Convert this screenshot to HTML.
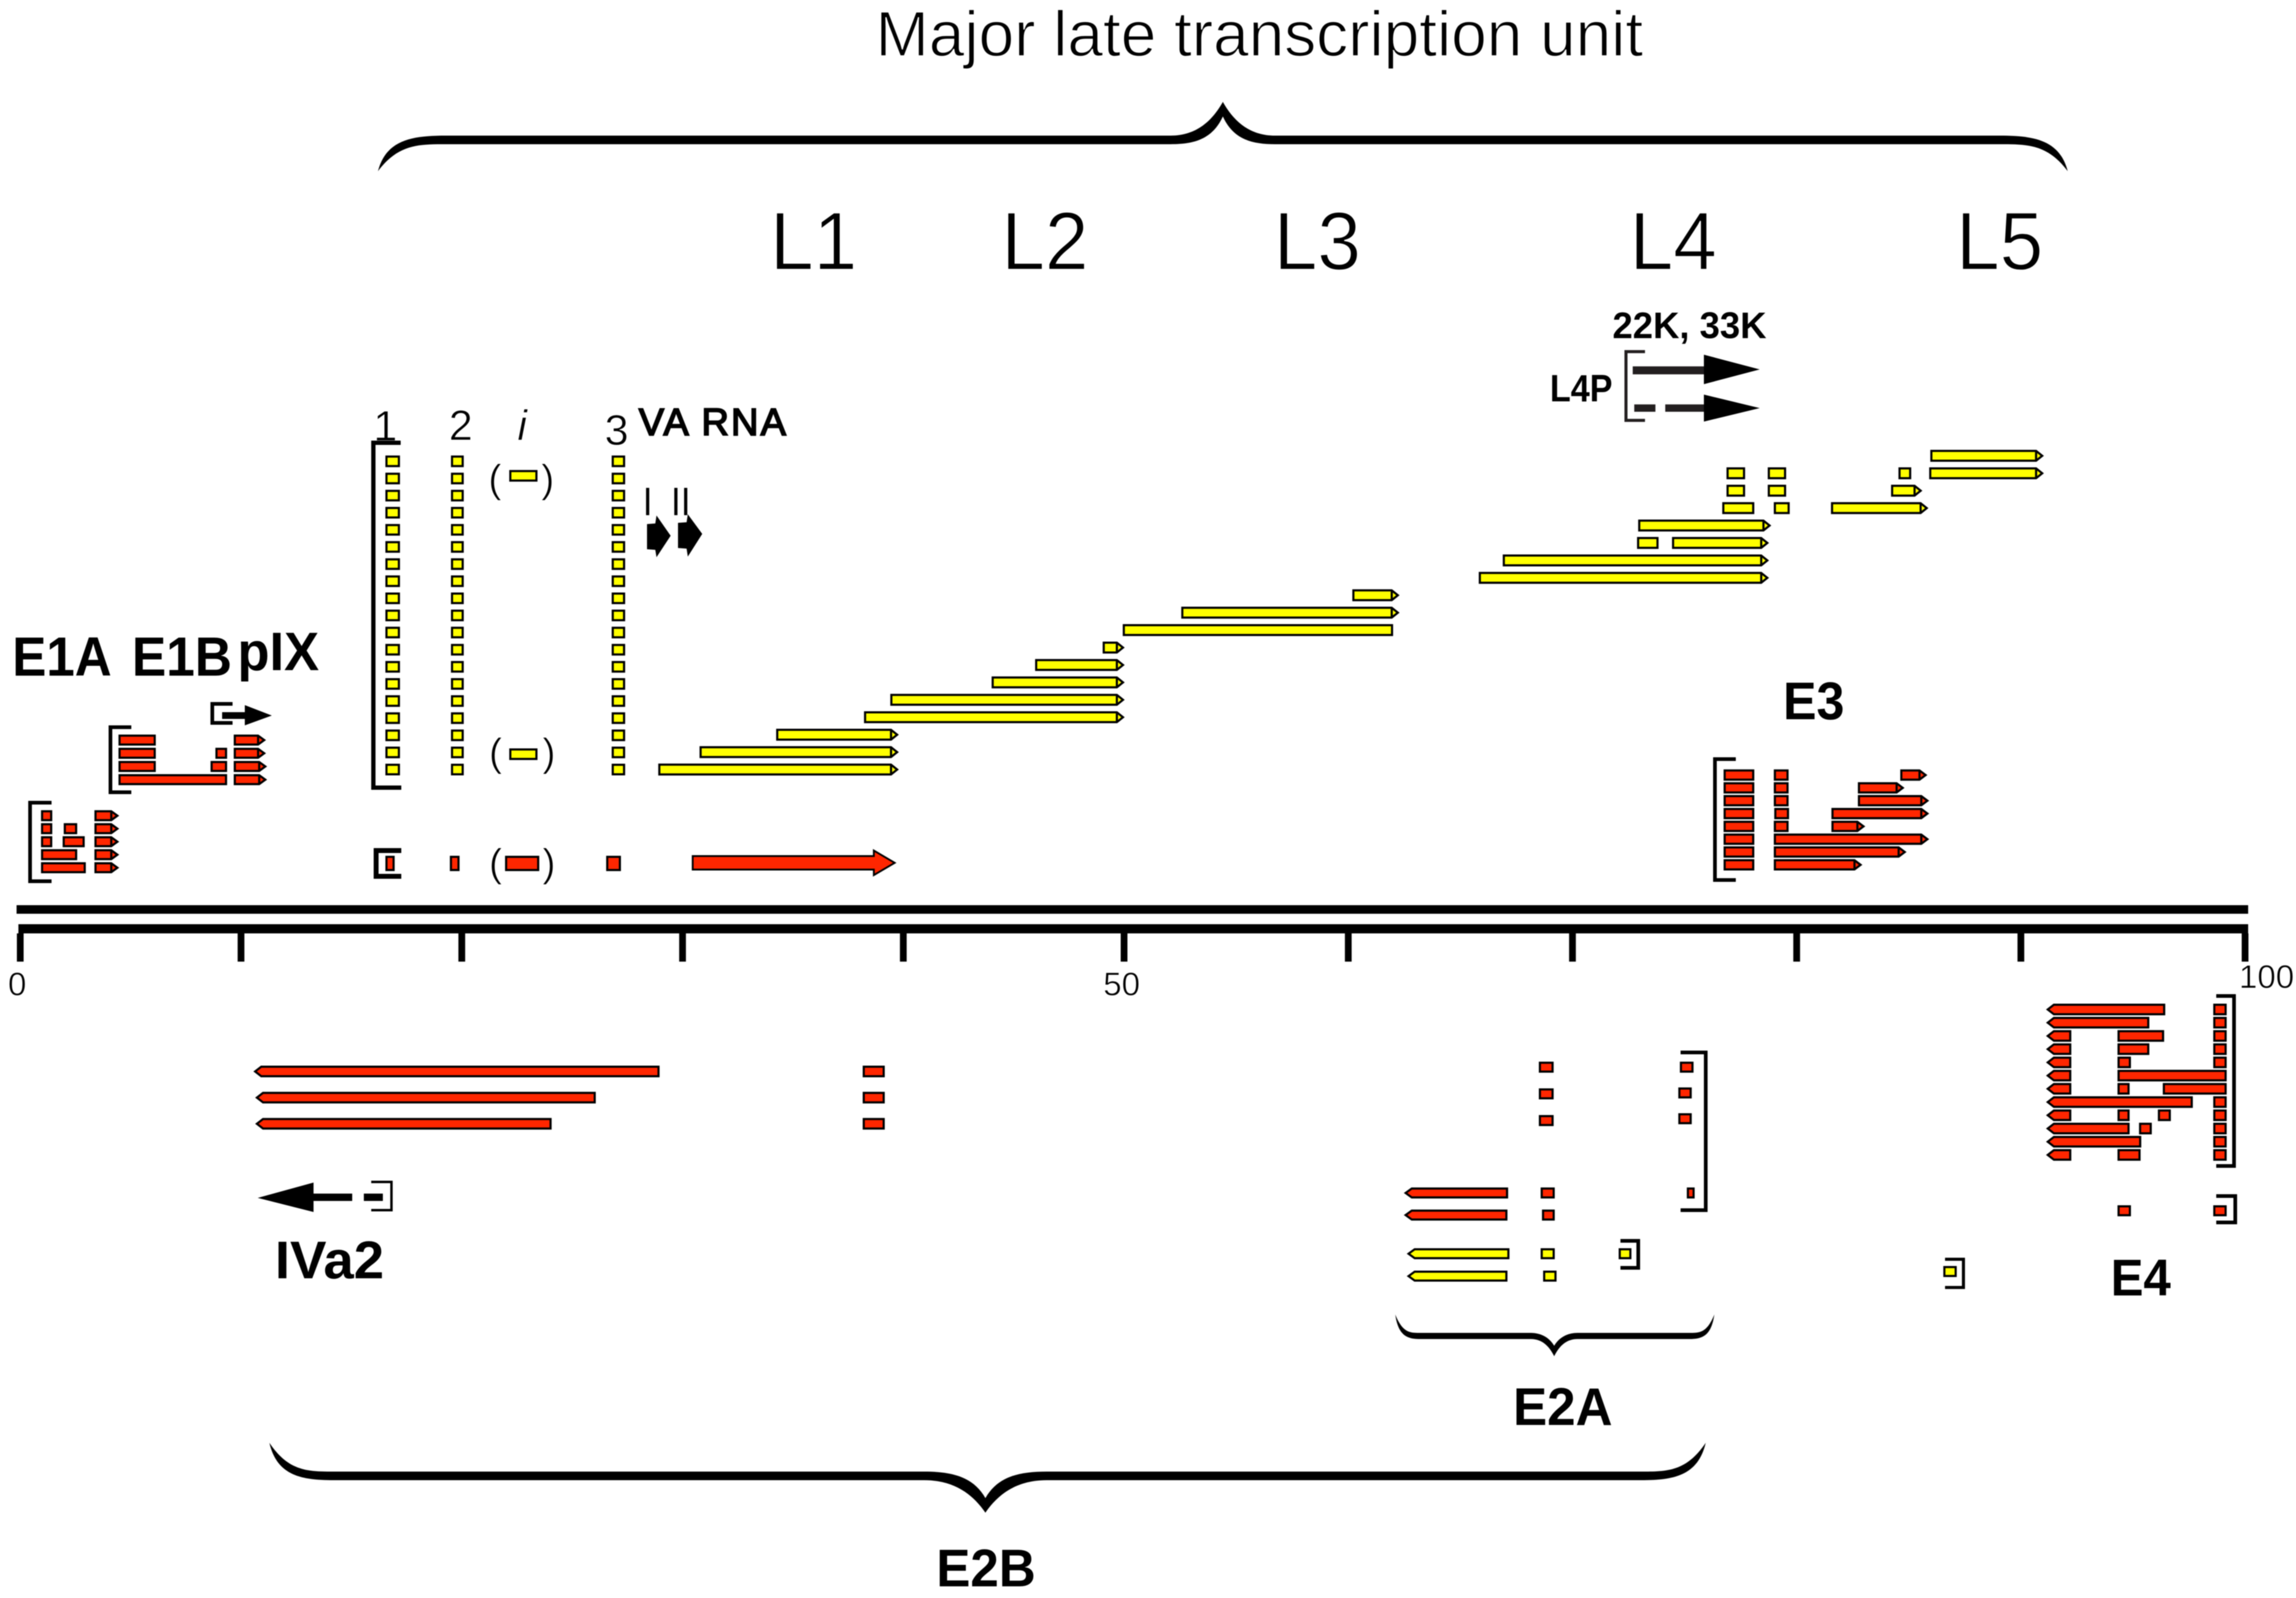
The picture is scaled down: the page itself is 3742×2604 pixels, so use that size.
<!DOCTYPE html>
<html lang="en">
<head>
<meta charset="utf-8">
<title>Adenovirus transcription map</title>
<style>
html,body{margin:0;padding:0;background:#fff;}
svg{display:block;filter:blur(0.9px);}
text{font-family:"Liberation Sans",sans-serif;fill:#000;}
.thin{stroke:#fff;stroke-width:1.8;}
.thin-s{stroke:#fff;stroke-width:0.9;}
.b{font-weight:bold;}
</style>
</head>
<body>
<svg id="map" xmlns="http://www.w3.org/2000/svg" width="3742" height="2604" viewBox="0 0 3742 2604">
  <rect x="0" y="0" width="3742" height="2604" fill="#fff"/>

  <text class="thin" x="1427" y="91" font-size="104" textLength="1251" lengthAdjust="spacingAndGlyphs">Major late transcription unit</text>
  <text class="thin" x="1255" y="439" font-size="134" textLength="142" lengthAdjust="spacingAndGlyphs">L1</text>
  <text class="thin" x="1632" y="439" font-size="134" textLength="142" lengthAdjust="spacingAndGlyphs">L2</text>
  <text class="thin" x="2076" y="439" font-size="134" textLength="142" lengthAdjust="spacingAndGlyphs">L3</text>
  <text class="thin" x="2656" y="439" font-size="134" textLength="142" lengthAdjust="spacingAndGlyphs">L4</text>
  <text class="thin" x="3188" y="439" font-size="134" textLength="142" lengthAdjust="spacingAndGlyphs">L5</text>

  <text class="b" x="2628" y="551" font-size="60" textLength="251" lengthAdjust="spacingAndGlyphs">22K, 33K</text>
  <text class="b" x="2526" y="654" font-size="62" textLength="102" lengthAdjust="spacingAndGlyphs">L4P</text>
  <text x="1041" y="709" font-size="62" stroke="#000" stroke-width="2.5" textLength="240" lengthAdjust="spacing">VA RNA</text>
  <text class="thin-s" x="628" y="718" font-size="70" text-anchor="middle">1</text>
  <text class="thin-s" x="751" y="717" font-size="70" text-anchor="middle">2</text>
  <text class="thin-s" x="851" y="717" font-size="70" font-style="italic" text-anchor="middle">i</text>
  <text class="thin-s" x="1005" y="725" font-size="70" text-anchor="middle">3</text>
  <text class="thin-s" x="1055.5" y="840" font-size="66" text-anchor="middle">I</text>
  <text class="thin-s" x="1101.5" y="840" font-size="66" text-anchor="middle">I</text>
  <text class="thin-s" x="1117.5" y="840" font-size="66" text-anchor="middle">I</text>

  <text class="b" x="20" y="1101" font-size="90" textLength="162" lengthAdjust="spacingAndGlyphs">E1A</text>
  <text class="b" x="215" y="1101" font-size="90" textLength="163" lengthAdjust="spacingAndGlyphs">E1B</text>
  <text class="b" x="387" y="1092" font-size="88" textLength="133" lengthAdjust="spacingAndGlyphs">pIX</text>
  <text class="b" x="2906" y="1172" font-size="86" textLength="100" lengthAdjust="spacingAndGlyphs">E3</text>
  <text class="b" x="448" y="2083" font-size="86" textLength="178" lengthAdjust="spacingAndGlyphs">IVa2</text>
  <text class="b" x="3440" y="2111" font-size="84" textLength="98" lengthAdjust="spacingAndGlyphs">E4</text>
  <text class="b" x="2466" y="2322" font-size="86" textLength="162" lengthAdjust="spacingAndGlyphs">E2A</text>
  <text class="b" x="1526" y="2585" font-size="86" textLength="162" lengthAdjust="spacingAndGlyphs">E2B</text>

  <text class="thin-s" x="796" y="802" font-size="64">(</text>
  <text class="thin-s" x="882" y="802" font-size="64">)</text>
  <text class="thin-s" x="797" y="1248" font-size="64">(</text>
  <text class="thin-s" x="884" y="1248" font-size="64">)</text>
  <text class="thin-s" x="797" y="1428" font-size="64">(</text>
  <text class="thin-s" x="884" y="1428" font-size="64">)</text>

  <g fill="none" stroke="#000">
    <path stroke-width="6" d="M84,1308 H49 V1436 H84"/>
    <path stroke-width="6" d="M214,1185 H180 V1291 H214"/>
    <path stroke-width="6" d="M379,1147 H346 V1178 H379"/>
    <path stroke-width="7" d="M653,721.5 H608.5 V1283.5 H654"/>
    <path stroke-width="8" d="M654,1386 H613 V1428 H654"/>
    <path stroke-width="5" stroke="#231f20" d="M2681,573 H2650 V685 H2681"/>
    <path stroke-width="6" d="M2829,1237 H2795 V1434 H2829"/>
    <path stroke-width="4" d="M605,1926 H638 V1972 H605"/>
    <path stroke-width="6" d="M2739,1715 H2780 V1972 H2739"/>
    <path stroke-width="6" d="M2641,2022 H2670 V2066 H2641"/>
    <path stroke-width="5" d="M3170,2052 H3200 V2098 H3170"/>
    <path stroke-width="6" d="M3612,1623 H3641 V1900 H3612"/>
    <path stroke-width="6" d="M3612,1949 H3643 V1992 H3612"/>
  </g>

  <path fill="#000" d="M362,1160.5 H399 V1149 L443,1166 L399,1182 V1171.5 H362 Z"/>
  <path fill="#000" d="M1054.5,854 L1068,853 L1070,840 L1093,873 L1070,908 L1068,896 L1054.5,895 Z"/>
  <path fill="#000" d="M1105,852 L1119,851 L1121,838 L1144.5,870 L1121,907 L1119,894 L1105,893 Z"/>
  <rect x="2661" y="597" width="120" height="13" fill="#231f20"/>
  <polygon points="2777,578 2868,602 2777,626" fill="#000"/>
  <rect x="2663.5" y="659" width="34.5" height="12" fill="#231f20"/>
  <rect x="2714" y="659" width="67" height="12" fill="#231f20"/>
  <polygon points="2777,643 2868,665 2777,687" fill="#000"/>
  <polygon points="420,1952 511,1927 511,1975" fill="#000"/>
  <rect x="511" y="1945" width="63" height="12" fill="#000"/>
  <rect x="593" y="1945" width="31" height="12" fill="#000"/>

  <g id="axis"></g>
  <g id="marks"></g>
  <g id="braces"></g>
</svg>

<script>
// Map-unit axis
const tickValues = [0,10,20,30,40,50,60,70,80,90,100];
const labelValues = [0,50,100];
const labelTexts = ['0','50','100'];

// Segments: [start map unit, end map unit, lane, kind]; kind 0 = exon, 1 = forward arrow, -1 = reverse arrow
const e1aSegments = [
  [0.94,2.97,0,0],[3.36,4.45,0,1],
  [0.94,2.58,1,0],[3.36,4.45,1,1],
  [0.94,1.45,2,0],[1.92,2.92,2,0],[3.36,4.45,2,1],
  [0.94,1.45,3,0],[1.97,2.58,3,0],[3.36,4.45,3,1],
  [0.94,1.45,4,0],[3.36,4.45,4,1]
];
const e1bSegments = [
  [4.45,9.37,0,0],[9.67,11.15,0,1],
  [4.45,6.14,1,0],[8.62,9.37,1,0],[9.67,11.15,1,1],
  [4.45,6.14,2,0],[8.84,9.37,2,0],[9.67,11.1,2,1],
  [4.45,6.14,3,0],[9.67,11.1,3,1]
];
const leaderLanes = [0,1,2,3,4,5,6,7,8,9,10,11,12,13,14,15,16,17,18];
const leaderExon1 = [16.54,17.20];
const leaderExon2 = [19.51,20.09];
const leaderExon3 = [26.79,27.40];
const iLeaderLanesYellow = [0,18];
const iLeaderExon = [22.15,23.43];
const redLeaderSegments = [
  [16.54,16.96,0,0],[19.46,19.90,0,0],[21.96,23.51,0,0],[26.54,27.21,0,0]
];
const l1RedArrow = [30.46,39.61];
const lateSegments = [
  [28.90,39.77,0,1],[30.77,39.77,1,1],[34.24,39.77,2,1],
  [38.22,50,3,1],[39.41,50,4,1],[44.00,50,5,1],[45.97,50,6,1],[49.03,50,7,1],
  [49.94,62.00,8,0],[52.55,62.26,9,1],[60.18,62.26,10,1],
  [65.82,78.74,11,1],[66.89,78.74,12,1],
  [72.88,73.84,13,0],[74.44,78.74,13,1],
  [72.93,78.84,14,1],
  [76.68,78.11,15,0],[78.98,79.69,15,0],[81.53,85.85,15,1],
  [76.87,77.70,16,0],[78.71,79.53,16,0],[84.21,85.58,16,1],
  [76.87,77.70,17,0],[78.71,79.53,17,0],[84.54,85.11,17,0],[85.91,91.00,17,1],
  [85.96,91.00,18,1]
];
const e3Segments = [
  [76.74,78.11,0,0],[78.98,79.64,0,0],[84.62,85.80,0,1],
  [76.74,78.11,1,0],[78.98,79.64,1,0],[82.73,84.78,1,1],
  [76.74,78.11,2,0],[78.98,79.64,2,0],[82.73,85.88,2,1],
  [76.74,78.11,3,0],[79.00,79.66,3,0],[81.55,85.88,3,1],
  [76.74,78.11,4,0],[78.98,79.64,4,0],[81.55,83.03,4,1],
  [76.74,78.11,5,0],[78.98,85.88,5,1],
  [76.74,78.11,6,0],[78.98,84.87,6,1],
  [76.74,78.11,7,0],[78.98,82.90,7,1]
];
const e2bSegments = [
  [10.59,28.96,0,-1],[38.16,39.16,0,0],
  [10.67,26.07,1,-1],[38.16,39.16,1,0],
  [10.67,24.07,2,-1],[38.16,39.16,2,0]
];
const e2aUpperExons = [[68.50,69.16,0,0],[68.50,69.16,1,0],[68.50,69.16,2,0]];
const e2aBracketExons = [[74.79,75.40,0,0],[74.72,75.32,1,0],[74.72,75.32,2,0]];
const e2RedSegments = [
  [62.51,67.13,0,-1],[68.58,69.21,0,0],[75.10,75.45,0,0],
  [62.51,67.10,1,-1],[68.64,69.21,1,0]
];
const e2YellowSegments = [
  [62.64,67.19,0,-1],[68.58,69.21,0,0],[72.06,72.63,0,0],
  [62.64,67.10,1,-1],[68.69,69.29,1,0]
];
const farYellowExon = [[86.54,87.14,0,0]];
const e4Segments = [
  [91.15,96.44,0,-1],[98.58,99.18,0,0],
  [91.15,95.73,1,-1],[98.58,99.18,1,0],
  [91.15,92.25,2,-1],[94.31,96.39,2,0],[98.58,99.18,2,0],
  [91.15,92.25,3,-1],[94.31,95.73,3,0],[98.58,99.18,3,0],
  [91.15,92.25,4,-1],[94.31,94.91,4,0],[98.58,99.18,4,0],
  [91.15,92.25,5,-1],[94.31,99.18,5,0],
  [91.15,92.25,6,-1],[94.31,94.85,6,0],[96.33,99.18,6,0],
  [91.15,97.67,7,-1],[98.58,99.18,7,0],
  [91.15,92.25,8,-1],[94.31,94.85,8,0],[96.11,96.69,8,0],[98.58,99.18,8,0],
  [91.15,94.85,9,-1],[95.27,95.84,9,0],[98.58,99.18,9,0],
  [91.15,95.37,10,-1],[98.58,99.18,10,0],
  [91.15,92.25,11,-1],[94.31,95.34,11,0],[98.58,99.18,11,0]
];
const e4SmallExons = [[94.31,94.91,0,0],[98.58,99.18,0,0]];

const NS = 'http://www.w3.org/2000/svg';
const RED = '#ff2600';
const YELLOW = '#ffff00';

function xScale(v){
  return v <= 50 ? 33 + (v / 50) * 1799 : 1832 + ((v - 50) / 50) * 1827;
}
function laneScale(base, step){
  return function(lane){ return base + step * lane; };
}
function segmentPath(x0, x1, y, h, kind){
  const a = x0 + 1.75, b = x1 - 1.75, t = y - h / 2 + 1.75, u = y + h / 2 - 1.75, head = 10;
  if (kind === 1) {
    const k = b - head;
    return 'M' + a + ',' + t + ' H' + k + ' L' + b + ',' + y + ' L' + k + ',' + u + ' H' + a + ' Z M' + k + ',' + t + ' V' + u;
  }
  if (kind === -1) {
    const k = a + head;
    return 'M' + b + ',' + t + ' H' + k + ' L' + a + ',' + y + ' L' + k + ',' + u + ' H' + b + ' Z';
  }
  return 'M' + a + ',' + t + ' H' + b + ' V' + u + ' H' + a + ' Z';
}

const marks = document.getElementById('marks');
function drawSegments(segments, yOf, fill, h, name){
  segments.forEach(function(s, i){
    const el = document.createElementNS(NS, 'path');
    el.setAttribute('d', segmentPath(xScale(s[0]), xScale(s[1]), yOf(s[2]), h, s[3]));
    el.setAttribute('fill', fill);
    el.setAttribute('stroke', '#000');
    el.setAttribute('stroke-width', '3.5');
    
    
    marks.appendChild(el);
  });
}
function drawColumn(lanes, span, yOf, fill, h, name){
  drawSegments(lanes.map(function(l){ return [span[0], span[1], l, 0]; }), yOf, fill, h, name);
}

// Axis
const axis = document.getElementById('axis');
function axisRect(x, y, w, h, name){
  const r = document.createElementNS(NS, 'rect');
  r.setAttribute('x', x);
  r.setAttribute('y', y);
  r.setAttribute('width', w);
  r.setAttribute('height', h);
  r.setAttribute('fill', '#000');
  
  
  axis.appendChild(r);
}
axisRect(27, 1475, xScale(100) + 5 - 27, 14, 'upper-strand-line');
axisRect(xScale(0) - 3, 1506, xScale(100) + 8 - xScale(0), 15, 'lower-strand-line');
tickValues.forEach(function(v){
  axisRect(xScale(v) - 5.5, 1521, 11, 46, 'axis-tick-' + v);
});
labelValues.forEach(function(v, i){
  const t = document.createElementNS(NS, 'text');
  t.setAttribute('x', xScale(v) + (v === 100 ? 35 : v === 0 ? -5 : -4));
  t.setAttribute('y', v === 100 ? 1610 : 1622);
  t.setAttribute('font-size', '54');
  t.setAttribute('text-anchor', 'middle');
  t.setAttribute('class', 'thin-s');
  t.textContent = labelTexts[i];
  
  
  axis.appendChild(t);
});

// Early regions, red
drawSegments(e1aSegments, laneScale(1414, -21.2), RED, 18, 'e1a');
drawSegments(e1bSegments, laneScale(1270.5, -21.5), RED, 18, 'e1b');
drawSegments(redLeaderSegments, laneScale(1407, 0), RED, 25, 'red-leader');
drawSegments(e3Segments, laneScale(1263, 20.9), RED, 18.5, 'e3');
drawSegments(e2bSegments, laneScale(1746, 42.6), RED, 19, 'e2b');
drawSegments(e2aUpperExons, laneScale(1739, 43.5), RED, 18, 'e2a-upper');
drawSegments(e2aBracketExons, laneScale(1739, 42), RED, 18, 'e2a-bracket');
drawSegments(e2RedSegments, laneScale(1944, 36), RED, 18, 'e2-red');
drawSegments(e4Segments, laneScale(1645, 21.55), RED, 19, 'e4');
drawSegments(e4SmallExons, laneScale(1973, 0), RED, 18, 'e4-small');

// Late region, yellow
const leaderY = laneScale(1254, -27.9);
drawColumn(leaderLanes, leaderExon1, leaderY, YELLOW, 19, 'leader-1');
drawColumn(leaderLanes, leaderExon2, leaderY, YELLOW, 19, 'leader-2');
drawColumn(leaderLanes, leaderExon3, leaderY, YELLOW, 19, 'leader-3');
drawColumn(iLeaderLanesYellow, iLeaderExon, laneScale(1229, -25.2), YELLOW, 19, 'i-leader');
drawSegments(lateSegments, laneScale(1254, -28.4), YELLOW, 19.5, 'late');
drawSegments(e2YellowSegments, laneScale(2043, 36.5), YELLOW, 18, 'e2-yellow');
drawSegments(farYellowExon, laneScale(2072, 0), YELLOW, 18, 'far-yellow');

// Big red L1 arrow
(function(){
  const x0 = xScale(l1RedArrow[0]);
  const x1 = xScale(l1RedArrow[1]);
  const y = 1406;
  const el = document.createElementNS(NS, 'path');
  el.setAttribute('d', 'M' + x0 + ',' + (y - 11) + ' H' + (x1 - 34) + ' V' + (y - 20) + ' L' + x1 + ',' + y + ' L' + (x1 - 34) + ',' + (y + 20) + ' V' + (y + 11) + ' H' + x0 + ' Z');
  el.setAttribute('fill', RED);
  el.setAttribute('stroke', '#000');
  el.setAttribute('stroke-width', '3');
  
  
  marks.appendChild(el);
})();

// Braces
const braces = document.getElementById('braces');
function bracePath(x0, xc, x1, yEnd, yLine, yPeak, t, r, n){
  const s = yLine < yEnd ? -1 : 1;
  const yo = yLine + s * t / 2, yi = yLine - s * t / 2;
  const mid = yo + s * Math.abs(yPeak - yo) * 0.45;
  const inner = yPeak - s * t * 1.7;
  return 'M' + x0 + ',' + yEnd +
    ' C' + (x0 + r * 0.12) + ',' + yLine + ' ' + (x0 + r * 0.5) + ',' + yo + ' ' + (x0 + r) + ',' + yo +
    ' L' + (xc - n) + ',' + yo +
    ' C' + (xc - n * 0.5) + ',' + yo + ' ' + (xc - n * 0.2) + ',' + mid + ' ' + xc + ',' + yPeak +
    ' C' + (xc + n * 0.2) + ',' + mid + ' ' + (xc + n * 0.5) + ',' + yo + ' ' + (xc + n) + ',' + yo +
    ' L' + (x1 - r) + ',' + yo +
    ' C' + (x1 - r * 0.5) + ',' + yo + ' ' + (x1 - r * 0.12) + ',' + yLine + ' ' + x1 + ',' + yEnd +
    ' C' + (x1 - r * 0.3) + ',' + yi + ' ' + (x1 - r * 0.6) + ',' + yi + ' ' + (x1 - r) + ',' + yi +
    ' L' + (xc + n) + ',' + yi +
    ' C' + (xc + n * 0.55) + ',' + yi + ' ' + (xc + n * 0.2) + ',' + (yi + s * 8) + ' ' + xc + ',' + inner +
    ' C' + (xc - n * 0.2) + ',' + (yi + s * 8) + ' ' + (xc - n * 0.55) + ',' + yi + ' ' + (xc - n) + ',' + yi +
    ' L' + (x0 + r) + ',' + yi +
    ' C' + (x0 + r * 0.6) + ',' + yi + ' ' + (x0 + r * 0.3) + ',' + yi + ' ' + x0 + ',' + yEnd + ' Z';
}
function addBrace(d, name){
  const el = document.createElementNS(NS, 'path');
  el.setAttribute('d', d);
  el.setAttribute('fill', '#000');
  
  
  braces.appendChild(el);
}
addBrace(bracePath(616, 1993, 3370, 279, 228, 166, 14, 110, 85), 'major-late-brace');
addBrace(bracePath(2274, 2533, 2794, 2142, 2177, 2210, 10, 40, 38), 'e2a-brace');
addBrace(bracePath(439, 1606, 2780, 2351, 2405, 2465, 14, 105, 100), 'e2b-brace');
</script>
</body>
</html>
